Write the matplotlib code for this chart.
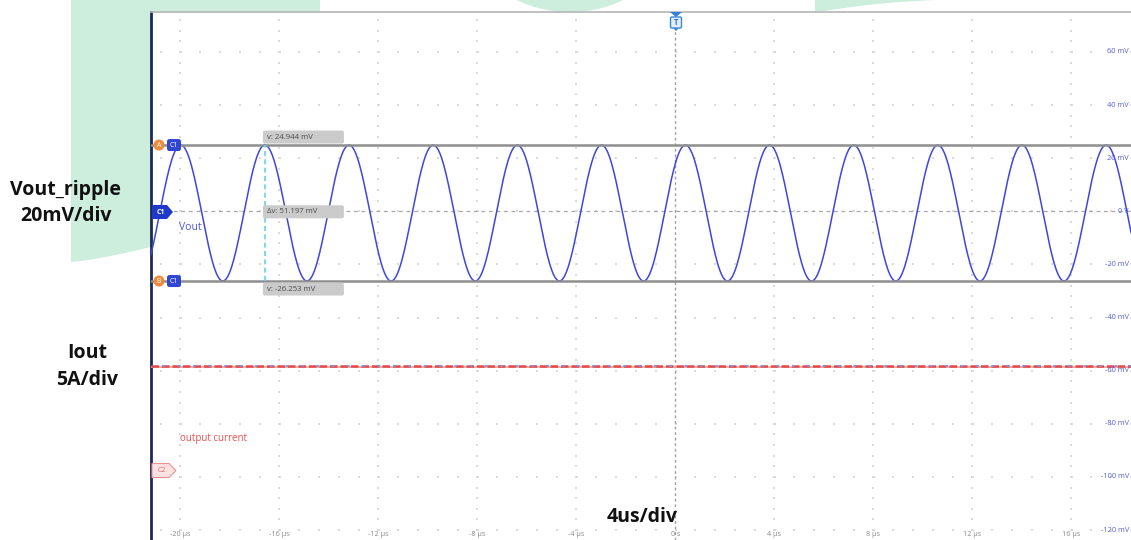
import numpy as np
import matplotlib
matplotlib.use("Agg")
import matplotlib.pyplot as plt
from matplotlib.patches import Polygon, Ellipse, FancyBboxPatch, Circle

plt.rcParams['font.family'] = ['Open Sans', 'DejaVu Sans']

# ---- Channel 1: Vout ripple (extrema of the captured trace) ----
peak_times_us = [-19.99, -16.59, -13.19, -9.79, -6.39, -2.99, 0.40, 3.80, 7.20, 10.60, 14.00, 17.40]
trough_times_us = [-21.69, -18.29, -14.89, -11.49, -8.09, -4.69, -1.29, 2.10,
                   5.50, 8.90, 12.30, 15.70, 19.10]
peak_mV = 24.944
trough_mV = -26.253

# ---- Cursors ----
cursor_a_mV = 24.944
cursor_b_mV = -26.253
cursor_t_us = -16.59

# ---- Channel 2: output current ----
iout_A = 9.9
c2_offset_mV = -97.7
mV_per_div = 20
A_per_div = 5

# ---- Axis ticks ----
time_ticks_us = [-20, -16, -12, -8, -4, 0, 4, 8, 12, 16]
time_tick_labels = ["-20 µs", "-16 µs", "-12 µs", "-8 µs", "-4 µs", "0 s",
                    "4 µs", "8 µs", "12 µs", "16 µs"]
volt_ticks_mV = [60, 40, 20, 0, -20, -40, -60, -80, -100, -120]
volt_tick_labels = ["60 mV", "40 mV", "20 mV", "0 V", "-20 mV", "-40 mV",
                    "-60 mV", "-80 mV", "-100 mV", "-120 mV"]

W, H = 1131, 540
fig = plt.figure(figsize=(W / 100, H / 100), dpi=100)
fig.patch.set_facecolor('white')

# pixel <-> data helpers for the scope graticule
PX_PER_US, X0_PX = 24.75, 675.5
PX_PER_MV, Y0_PX = 2.656, 211.3
def X(px):
    return (px - X0_PX) / PX_PER_US
def Y(py):
    return (Y0_PX - py) / PX_PER_MV

# ---- background slide shapes ----
bg = fig.add_axes([0, 0, 1, 1], zorder=0)
bg.set_xlim(0, W); bg.set_ylim(H, 0); bg.axis('off')
green = '#cdeedd'
xs = np.linspace(71, 151, 20)
bottom = 262 - (xs - 71) ** 1.3 / 80 ** 1.3 * 15
left_pts = [(71, 0), (320, 0), (320, 240), (151, 247)] + list(zip(xs[::-1], bottom[::-1]))
bg.add_patch(Polygon(left_pts, closed=True, facecolor=green, edgecolor='none'))
bg.add_patch(Ellipse((570, -40), 166, 104, facecolor=green, edgecolor='none'))
xr = np.linspace(815, 935, 20)
right_pts = [(815, 0), (935, 0)] + list(zip(xr[::-1], 12.5 - (xr[::-1] - 815) / 120 * 12.5 - 2 * np.sin(np.pi * (xr[::-1] - 815) / 120)))
bg.add_patch(Polygon(right_pts, closed=True, facecolor=green, edgecolor='none'))

# ---- main scope axes ----
ax = fig.add_axes([151 / W, 0, 1 - 151 / W, (H - 12) / H], zorder=1)
ax.set_facecolor('white')
ax.set_xlim(X(151), X(W))
ax.set_ylim(Y(H), Y(12))
ax.set_xticks([]); ax.set_yticks([])
for s in ('right', 'bottom'):
    ax.spines[s].set_visible(False)
ax.spines['top'].set_color('#b5b5b5'); ax.spines['top'].set_linewidth(1.2)
ax.spines['left'].set_color('#1c2a55'); ax.spines['left'].set_linewidth(2)
ax.spines['left'].set_linestyle((0, (1.5, 1)))

# graticule dots
minor_t = np.arange(-24, 20.01, 0.8)
minor_v = np.arange(-128, 80.01, 4)
gx, gy = [], []
for t in time_ticks_us:
    if t == 0:
        continue
    gx += [t] * len(minor_v); gy += list(minor_v)
for v in volt_ticks_mV:
    gx += list(minor_t); gy += [v] * len(minor_t)
ax.scatter(gx, gy, s=1.0, marker='s', color='#dadada', linewidths=0, zorder=1)

# trigger time and C1 ground reference
ax.plot([0, 0], [Y(H), Y(31)], color='#a0a0a0', lw=1, ls=(0, (2, 2)), zorder=2)
ax.axhline(0, color='#a8a8a8', lw=0.9, ls=(0, (3, 3)), zorder=2)

# output current trace
iout_mV = c2_offset_mV + iout_A * mV_per_div / A_per_div
ax.axhline(iout_mV - 0.7, color='#f6a9a9', lw=1.4, zorder=3)
ax.axhline(iout_mV, color='#e24a4a', lw=1.8, ls=(0, (3, 1.2)), zorder=3)
ax.axhline(iout_mV, color='#7a98e6', lw=1.3, ls=(2, (1.5, 7)), zorder=3)

# Vout trace: half-cosine segments between successive extrema
ext = sorted([(t, peak_mV) for t in peak_times_us] + [(t, trough_mV) for t in trough_times_us])
tt, vv = [], []
for (t0, v0), (t1, v1) in zip(ext[:-1], ext[1:]):
    s = np.linspace(0, 1, 60)
    tt.append(t0 + (t1 - t0) * s)
    vv.append(v0 + (v1 - v0) * (1 - np.cos(np.pi * s)) / 2)
ax.plot(np.concatenate(tt), np.concatenate(vv), color='#3d47e0', lw=1.1, zorder=4)

# cursors
ax.axhline(cursor_a_mV, color='#8e8e8e', lw=1.8, zorder=5)
ax.axhline(cursor_b_mV, color='#8e8e8e', lw=1.8, zorder=5)
ax.plot([cursor_t_us, cursor_t_us], [cursor_b_mV, cursor_a_mV], color='#62d6ea',
        lw=1.2, ls=(0, (3, 2)), zorder=5)

# axis labels drawn on the graticule
for t, lab in zip(time_ticks_us, time_tick_labels):
    ax.text(t, Y(535), lab, ha='center', va='center', fontsize=5.2, color='#8a8a8a', zorder=6)
for v, lab in zip(volt_ticks_mV, volt_tick_labels):
    ax.text(X(1129), v, lab, ha='right', va='center', fontsize=5.3, color='#5560dd', zorder=6)

# ---- overlay annotations (pixel space) ----
ov = fig.add_axes([0, 0, 1, 1], zorder=3)
ov.set_xlim(0, W); ov.set_ylim(H, 0); ov.axis('off'); ov.patch.set_alpha(0)

def ypx(mv):
    return Y0_PX - mv * PX_PER_MV

cx0 = X0_PX + cursor_t_us * PX_PER_US - 2
for yc, txt in [(ypx(cursor_a_mV) - 8, f"v: {cursor_a_mV:.3f} mV"),
                (ypx(0) + 0.5, f"Δv: {cursor_a_mV - cursor_b_mV:.3f} mV"),
                (ypx(cursor_b_mV) + 8, f"v: {cursor_b_mV:.3f} mV")]:
    ov.add_patch(FancyBboxPatch((cx0, yc - 6.5), 81, 13, boxstyle='round,pad=0,rounding_size=2',
                                facecolor='#cbcbcb', edgecolor='none'))
    ov.text(cx0 + 4, yc, txt, ha='left', va='center', fontsize=5.6, color='#4a4a4a')

for lbl, mv in [('A', cursor_a_mV), ('B', cursor_b_mV)]:
    yc = ypx(mv)
    ov.add_patch(Circle((159, yc), 5.5, facecolor='#ee8b3d', edgecolor='none'))
    ov.text(159, yc, lbl, ha='center', va='center', fontsize=5, color='white')
    ov.add_patch(FancyBboxPatch((167, yc - 6), 14, 12, boxstyle='round,pad=0,rounding_size=2.5',
                                facecolor='#3046d2', edgecolor='none'))
    ov.text(174, yc, 'C1', ha='center', va='center', fontsize=5, color='white')

ov.add_patch(Polygon([(152, 205), (167, 205), (173, 212), (167, 219), (152, 219)],
                     facecolor='#1f3acb', edgecolor='none'))
ov.text(161, 212, 'C1', ha='center', va='center', fontsize=5, color='white', fontweight='bold')
ov.add_patch(Polygon([(152, 463.5), (169, 463.5), (176, 470.5), (169, 477.5), (152, 477.5)],
                     facecolor='#fde2e2', edgecolor='#f09090', lw=0.8))
ov.text(162, 470.5, 'C2', ha='center', va='center', fontsize=5, color='#e06f6f')

# trigger marker
ov.add_patch(Polygon([(670, 12), (682, 12), (676, 17)], facecolor='#2f7fe0', edgecolor='none'))
ov.add_patch(FancyBboxPatch((670.5, 17), 11, 11, boxstyle='round,pad=0,rounding_size=1.5',
                            facecolor='#e3effc', edgecolor='#3a86e0', lw=1))
ov.text(676, 22.5, 'T', ha='center', va='center', fontsize=5.5, color='#2f6fd0', fontweight='bold')
ov.add_patch(Polygon([(673, 28), (679, 28), (676, 31)], facecolor='#3a86e0', edgecolor='none'))

ov.text(179, 228, 'Vout', ha='left', va='center', fontsize=7.5, color='#4a58e0')
ov.text(180, 438, 'output current', ha='left', va='center', fontsize=7, color='#e8504f')

big = dict(ha='center', va='center', fontsize=14, fontweight='bold', color='#111111')
ov.text(66, 190, 'Vout_ripple', **big)
ov.text(66, 216, '20mV/div', **big)
ov.text(87, 353, 'Iout', **big)
ov.text(87, 380, '5A/div', **big)
ov.text(642, 517, '4us/div', **big)

fig.savefig('out.png', dpi=100)
